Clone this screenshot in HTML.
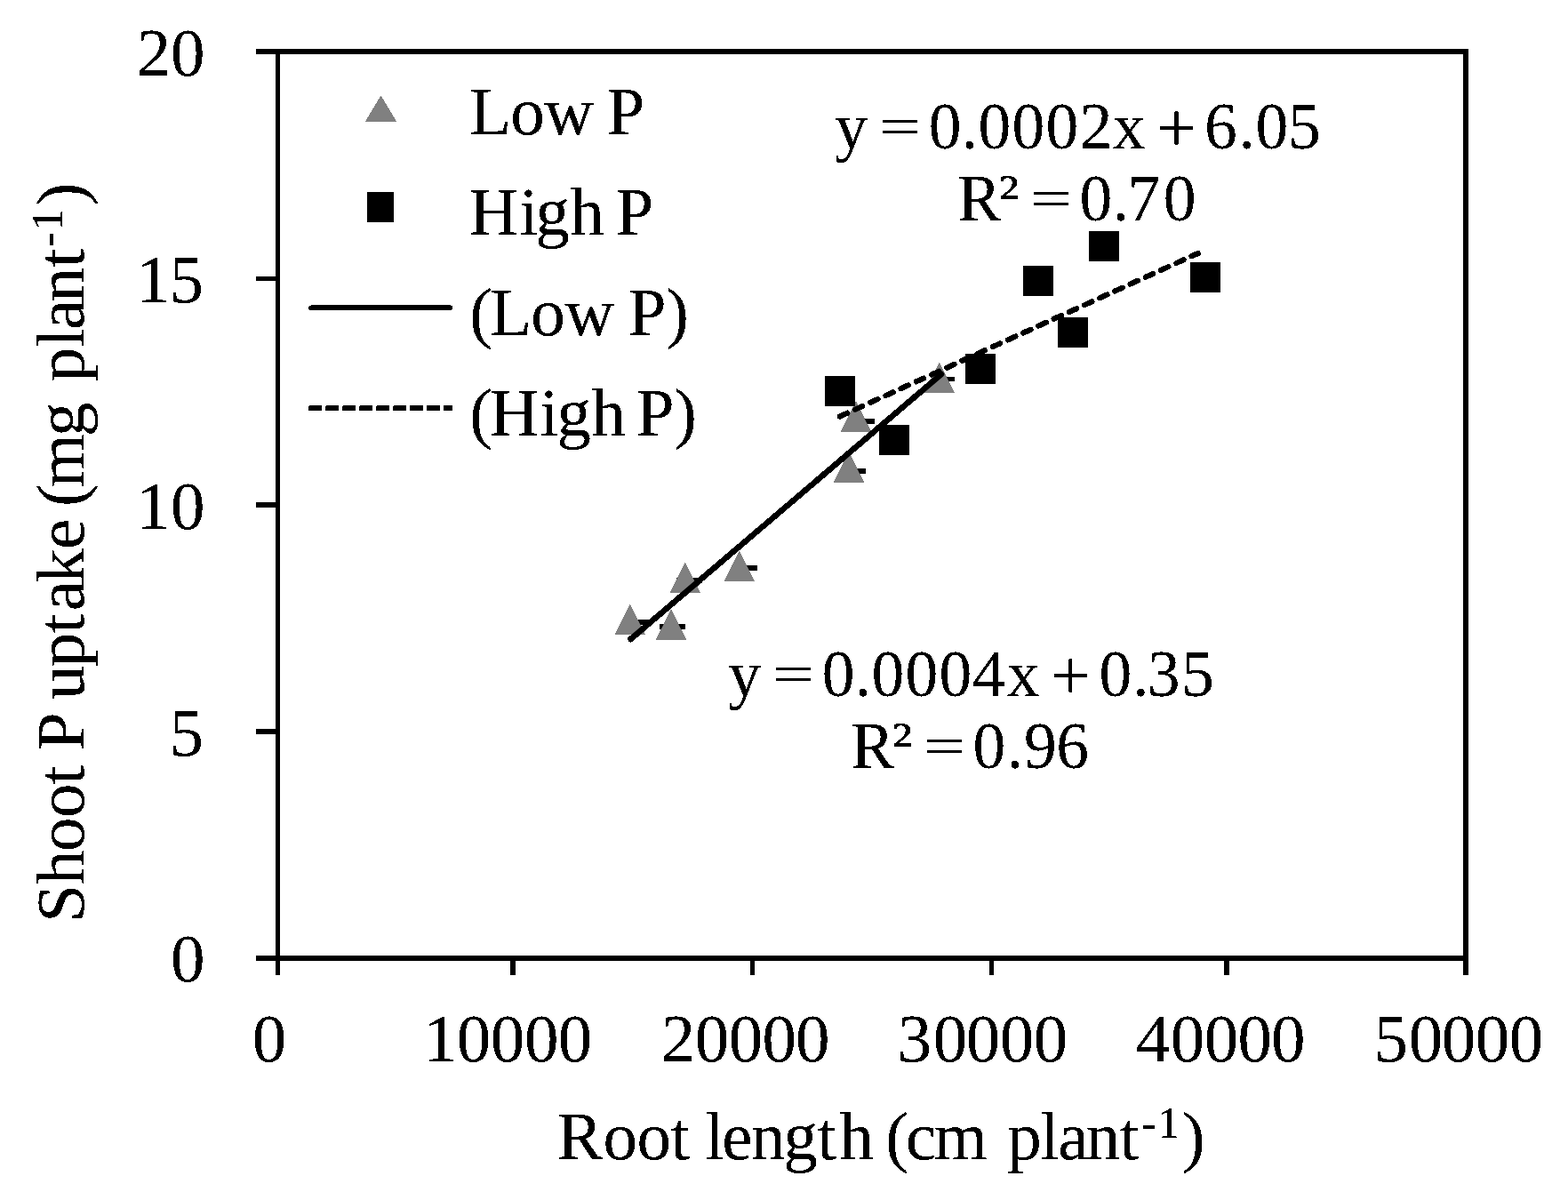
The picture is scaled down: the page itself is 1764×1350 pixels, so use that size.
<!DOCTYPE html>
<html lang="en"><head><meta charset="utf-8"><title>Shoot P uptake vs root length</title>
<style>
html,body{margin:0;padding:0;background:#fff;}
body{width:1764px;height:1350px;overflow:hidden;}
svg{display:block;}
text{font-family:"Liberation Serif","DejaVu Serif",serif;fill:#000;white-space:pre;}
</style></head><body>
<svg width="1764" height="1350" viewBox="0 0 1764 1350">
<defs><filter id="crisp" x="0" y="0" width="1764" height="1350" filterUnits="userSpaceOnUse" color-interpolation-filters="sRGB"><feComponentTransfer><feFuncA type="discrete" tableValues="0 0 1 1 1"/></feComponentTransfer></filter></defs>
<rect width="1764" height="1350" fill="#fff"/>
<g id="chart" filter="url(#crisp)">
<g id="axes" shape-rendering="crispEdges">
<rect x="288" y="55" width="1364" height="6" fill="#000"/>
<rect x="288" y="1075" width="1364" height="6" fill="#000"/>
<rect x="310" y="55" width="5" height="1042" fill="#000"/>
<rect x="1646" y="55" width="6" height="1042" fill="#000"/>
<rect x="288" y="311" width="24" height="5" fill="#000"/>
<rect x="288" y="565" width="24" height="6" fill="#000"/>
<rect x="288" y="820" width="24" height="6" fill="#000"/>
<rect x="574" y="1078" width="6" height="19" fill="#000"/>
<rect x="844" y="1078" width="5" height="19" fill="#000"/>
<rect x="1113" y="1078" width="5" height="19" fill="#000"/>
<rect x="1377" y="1078" width="6" height="19" fill="#000"/>
</g>
<g id="ylabels">
<text font-size="77"><tspan x="153.63 192" y="85.2">20</tspan></text>
<text font-size="77"><tspan x="152.88 190.47" y="340.2">15</tspan></text>
<text font-size="77"><tspan x="152.88 192" y="595.1">10</tspan></text>
<text font-size="77"><tspan x="190.47" y="850.3">5</tspan></text>
<text font-size="77"><tspan x="192" y="1104">0</tspan></text>
</g><g id="xlabels">
<text font-size="77"><tspan x="283.75" y="1194.2">0</tspan></text>
<text font-size="77"><tspan x="475.88 513.65 551.65 590.05 627.75" y="1194.2">10000</tspan></text>
<text font-size="77"><tspan x="743.63 781.75 819.75 857.55 894.95" y="1194.2">20000</tspan></text>
<text font-size="77"><tspan x="1009.56 1049.85 1086.75 1124.65 1162.75" y="1194.2">30000</tspan></text>
<text font-size="77"><tspan x="1278.05 1316.75 1354.75 1392.55 1429.95" y="1194.2">40000</tspan></text>
<text font-size="77"><tspan x="1545.47 1584.85 1621.75 1659.65 1697.75" y="1194.2">50000</tspan></text>
</g>
<g id="titles">
<text font-size="77"><tspan x="626.67 678.4 716.4 754.55 775.95 793.3 812.14 844.95 881.33 919.45 944.43 982.93 996.18 1019.08 1050.75 1110.64 1133.13 1170.3 1190.18 1221.85 1259.65" y="1304">Root length (cm plant</tspan><tspan x="1284.1 1302.35" y="1280" font-size="50">-1</tspan><tspan x="1330.03" y="1304">)</tspan></text>
<text transform="rotate(-90)" font-size="77"><tspan x="-1037.85 -995.02 -958.05 -920.1 -882.4 -861 -844.38 -801.56 -787.1 -750.37 -712.3 -687.22 -655.88 -617.96 -583.78 -570.02 -548.2 -491.12 -452.62 -429.22 -390.7 -370.92 -339.5 -301.05" y="93.8">Shoot P uptake (mg plant</tspan><tspan x="-277.8 -259.65" y="70.2" font-size="50">-1</tspan><tspan x="-231.27" y="93.8">)</tspan></text>
</g>
<g id="legend">
<polygon points="428.45,107.6 446.1,137 410.8,137" fill="#808080"/>
<text font-size="77"><tspan x="528.19 574.25 612.33 667.94 682.42" y="151">Low P</tspan></text>
<rect x="412.8" y="215.8" width="30.3" height="34" fill="#000"/>
<text font-size="77"><tspan x="527.62 584.23 602.28 641.28 679.78 692.57" y="264">High P</tspan></text>
<line x1="350.2" y1="346.4" x2="506.3" y2="346.4" stroke="#000" stroke-width="5.6" stroke-linecap="round"/>
<text font-size="77"><tspan x="528.13 551.24 597.15 635.58 691.19 706.72 749.18" y="376.8">(Low P)</tspan></text>
<line x1="347.5" y1="459.3" x2="509" y2="459.3" stroke="#000" stroke-width="5.5" stroke-dasharray="14.7 4.25"/>
<text font-size="77"><tspan x="528.13 550.77 607.18 626.58 665.38 703.88 715.67 758.18" y="489.9">(High P)</tspan></text>
</g>
<g id="equations">
<text font-size="73.5"><tspan x="939.37 976.12" y="167.3">y </tspan><tspan x="989.36" y="163.05" font-size="61" textLength="46.9" lengthAdjust="spacingAndGlyphs">=</tspan><tspan x="1036.26" y="163.05" font-size="61"> </tspan><tspan x="1044.68 1081.71 1100.53 1138.53 1176.57 1214.79 1251.65 1288.4" y="167.3">0.0002x </tspan><tspan x="1301.16" y="169.8" font-size="79" textLength="44.6" lengthAdjust="spacingAndGlyphs">+</tspan><tspan x="1345.76" y="169.8" font-size="79"> </tspan><tspan x="1354.99 1393.61 1412.58 1448.98" y="167.3">6.05</tspan></text>
<text font-size="73.5"><tspan x="1077.28" y="247.9">R</tspan><tspan x="1123.21" y="241.2" font-size="64.3" textLength="23.38" lengthAdjust="spacingAndGlyphs">²</tspan><tspan x="1146.59" y="241.2" font-size="64.3"> </tspan><tspan x="1159.36" y="243.65" font-size="61" textLength="46.9" lengthAdjust="spacingAndGlyphs">=</tspan><tspan x="1206.26" y="243.65" font-size="61"> </tspan><tspan x="1214.62 1251.76 1268.71 1308.68" y="247.9">0.70</tspan></text>
<text font-size="73.5"><tspan x="819.37 856.12" y="783.4">y </tspan><tspan x="869.36" y="779.15" font-size="61" textLength="46.9" lengthAdjust="spacingAndGlyphs">=</tspan><tspan x="916.26" y="779.15" font-size="61"> </tspan><tspan x="924.68 961.71 980.52 1018.53 1056.57 1094.03 1132.85 1169.6" y="783.4">0.0004x </tspan><tspan x="1182.06" y="785.9" font-size="79" textLength="44.6" lengthAdjust="spacingAndGlyphs">+</tspan><tspan x="1226.66" y="785.9" font-size="79"> </tspan><tspan x="1236.58 1274.01 1290.65 1328.98" y="783.4">0.35</tspan></text>
<text font-size="73.5"><tspan x="957.28" y="864">R</tspan><tspan x="1003.21" y="857.3" font-size="64.3" textLength="23.38" lengthAdjust="spacingAndGlyphs">²</tspan><tspan x="1026.59" y="857.3" font-size="64.3"> </tspan><tspan x="1039.36" y="859.75" font-size="61" textLength="46.9" lengthAdjust="spacingAndGlyphs">=</tspan><tspan x="1086.26" y="859.75" font-size="61"> </tspan><tspan x="1094.62 1132.66 1152.1 1188.19" y="864">0.96</tspan></text>
</g>
<g id="series-low-p">
<rect x="702" y="697" width="27.5" height="6" fill="#000"/>
<rect x="742" y="702" width="29" height="6" fill="#000"/>
<rect x="761.5" y="650" width="28.5" height="5.6" fill="#000"/>
<rect x="823" y="636" width="29" height="6" fill="#000"/>
<rect x="950" y="527" width="24" height="6" fill="#000"/>
<rect x="956" y="471" width="28" height="6" fill="#000"/>
<rect x="1050" y="424" width="24" height="5" fill="#000"/>
<polygon points="708.8,679.5 726,714 691.6,714" fill="#808080"/>
<polygon points="755,685.5 772.2,720 737.8,720" fill="#808080"/>
<polygon points="770.8,632.5 788,667 753.6,667" fill="#808080"/>
<polygon points="831.8,619.5 849,654 814.6,654" fill="#808080"/>
<polygon points="955,508.5 972.2,543 937.8,543" fill="#808080"/>
<polygon points="963,451.5 980.2,486 945.8,486" fill="#808080"/>
<polygon points="1056.7,407.5 1073.9,442 1039.5,442" fill="#808080"/>
</g><g id="series-high-p" shape-rendering="crispEdges">
<rect x="928" y="423" width="34" height="34" fill="#000"/>
<rect x="989" y="478" width="34" height="34" fill="#000"/>
<rect x="1086" y="398" width="34" height="34" fill="#000"/>
<rect x="1151" y="299" width="34" height="34" fill="#000"/>
<rect x="1190" y="357" width="34" height="34" fill="#000"/>
<rect x="1225" y="260" width="34" height="34" fill="#000"/>
<rect x="1339" y="295" width="34" height="34" fill="#000"/>
</g><g id="trendlines">
<line x1="709.5" y1="719" x2="1059" y2="421" stroke="#000" stroke-width="6.5" stroke-linecap="round"/>
<line x1="944.8" y1="468.5" x2="1347.8" y2="284.9" stroke="#000" stroke-width="6" stroke-dasharray="9.2 9.7" stroke-linecap="round"/>
</g>
</g>
</svg>
</body></html>
